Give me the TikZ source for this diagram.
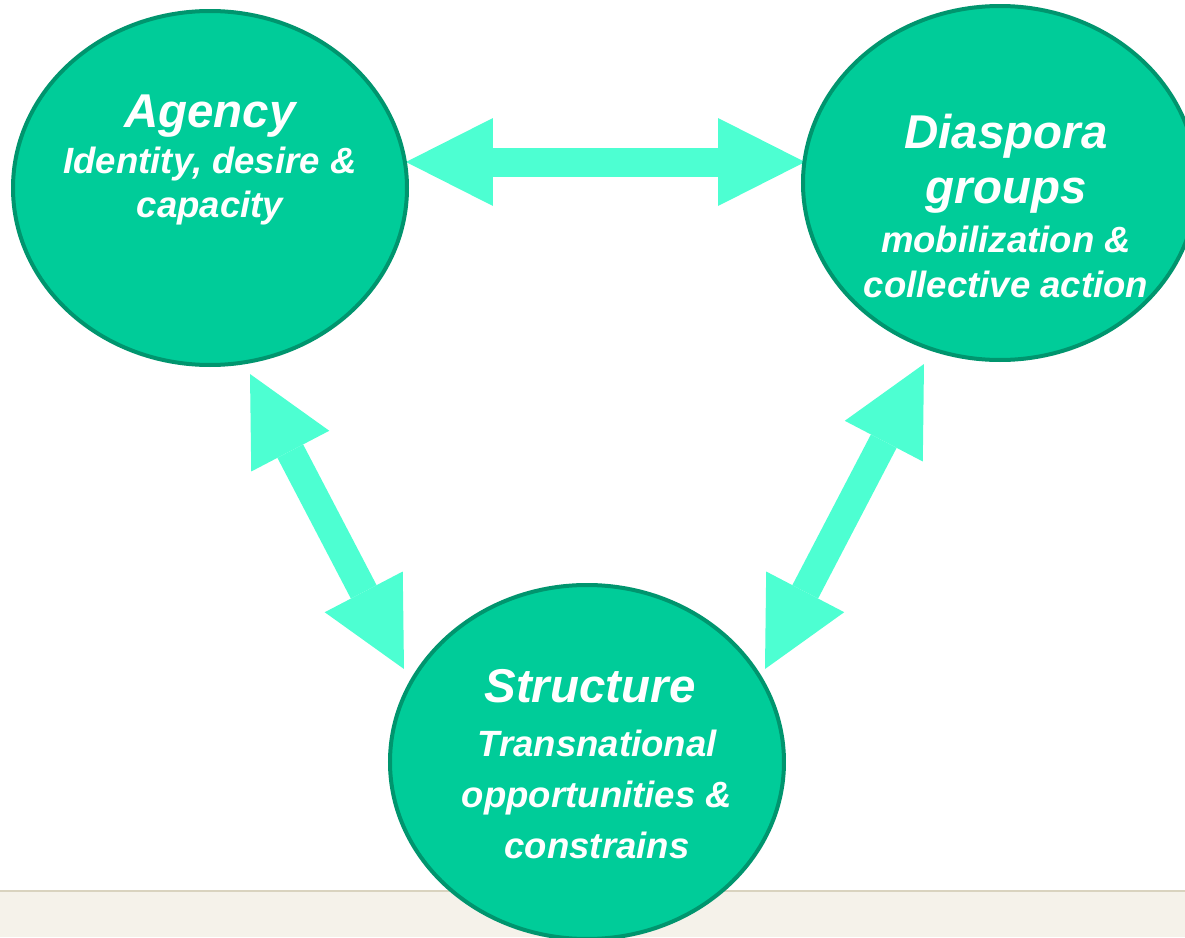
\documentclass[tikz,border=0pt]{standalone}
\usepackage{fontspec}
\setmainfont{Liberation Sans}
\usetikzlibrary{arrows.meta,shapes.geometric}

\definecolor{bubblefill}{HTML}{00CC99}
\definecolor{bubbleedge}{HTML}{00956E}
\definecolor{linkcol}{HTML}{4DFFD2}
\definecolor{footfill}{HTML}{F5F2EA}
\definecolor{footline}{HTML}{D9D3BF}

\begin{document}
\begin{tikzpicture}[
    bubble/.style={ellipse,fill=bubblefill,draw=bubbleedge,line width=0.04cm,
      minimum width=3.94cm,minimum height=3.54cm,inner sep=0pt},
    head/.style={text=white,anchor=base,align=center,inner sep=0pt,
      font=\fontsize{13.5}{15.6}\selectfont\bfseries\itshape},
    sub/.style={text=white,anchor=base,align=center,inner sep=0pt,
      font=\fontsize{10.4}{12.8}\selectfont\bfseries\itshape},
    link/.style={draw=linkcol,line width=0.29cm,
      {Triangle[length=0.87cm,width=0.88cm,line width=0pt]}-{Triangle[length=0.87cm,width=0.88cm,line width=0pt]}}]
    \useasboundingbox[fill=white] (0,0) rectangle (11.85,9.37);
    % footer band
    \fill[footfill] (0,0) rectangle (11.85,0.46);
    \draw[footline,line width=0.02cm] (0,0.46) -- (11.85,0.46);

    % arrow ends
    \coordinate (agR) at (4.06,7.75);
    \coordinate (diL) at (8.05,7.75);
    \coordinate (agB) at (2.50,5.63);
    \coordinate (stL) at (4.04,2.68);
    \coordinate (diB) at (9.24,5.73);
    \coordinate (stR) at (7.65,2.68);
    \draw[link] (agR) -- (diL);
    \draw[link] (agB) -- (stL);
    \draw[link] (diB) -- (stR);

    \node[bubble] (agency) at (2.10,7.49) {};
    \node[bubble] (diaspora) at (10.00,7.54) {};
    \node[bubble] (structure) at (5.87,1.75) {};

    % multi-line texts sit on the baseline of their last line
    \node[head] (agencyT) at (2.10,8.10) {Agency};
    \node[sub] (agencyS) at (2.10,7.19) {Identity, desire \&\\capacity};
    \node[head] (diasporaT) at (10.06,7.34) {Diaspora\\groups};
    \node[sub] (diasporaS) at (10.06,6.40) {mobilization \&\\collective action};
    \node[head] (structureT) at (5.90,2.35) {Structure};
    \node[sub,font=\fontsize{10.4}{14.5}\selectfont\bfseries\itshape] (structureS) at (5.97,0.79) {Transnational\\opportunities \&\\constrains};
\end{tikzpicture}
\end{document}
